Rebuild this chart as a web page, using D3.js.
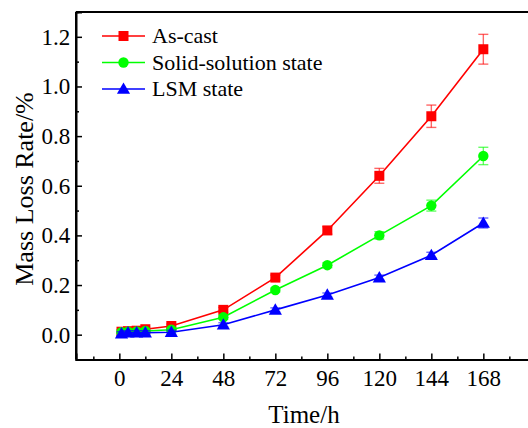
<!DOCTYPE html>
<html><head><meta charset="utf-8">
<script src="https://cdn.jsdelivr.net/npm/d3@7"></script>
<style>body{margin:0;background:#fff}svg{display:block}</style>
</head><body>
<svg id="c" width="528" height="428"></svg>
<script>
const times = [1, 4, 8, 12, 24, 48, 72, 96, 120, 144, 168];
const asCast = [0.012, 0.014, 0.016, 0.022, 0.035, 0.10, 0.23, 0.42, 0.64, 0.88, 1.15];
const asCastErr = [0.008, 0.008, 0.008, 0.008, 0.008, 0.01, 0.01, 0.015, 0.03, 0.045, 0.06];
const solid = [0.010, 0.012, 0.013, 0.015, 0.020, 0.07, 0.18, 0.28, 0.40, 0.52, 0.72];
const solidErr = [0.008, 0.008, 0.008, 0.008, 0.008, 0.008, 0.008, 0.01, 0.015, 0.022, 0.035];
const lsm = [0.004, 0.008, 0.008, 0.008, 0.010, 0.04, 0.10, 0.16, 0.23, 0.32, 0.45];
const lsmErr = [0.008, 0.008, 0.008, 0.008, 0.008, 0.008, 0.008, 0.008, 0.01, 0.012, 0.02];
const seriesNames = ["As-cast", "Solid-solution state", "LSM state"];
const xTicks = [0, 24, 48, 72, 96, 120, 144, 168];
const yTicks = [0.0, 0.2, 0.4, 0.6, 0.8, 1.0, 1.2];

const series = [
  {name: seriesNames[0], vals: asCast, err: asCastErr, color: "#ff0000", shape: "square"},
  {name: seriesNames[1], vals: solid, err: solidErr, color: "#00ff00", shape: "circle"},
  {name: seriesNames[2], vals: lsm, err: lsmErr, color: "#0000ff", shape: "triangle"}
];

const svg = d3.select("#c");
const L = 76, T = 12, B = 359.5;
const x = d3.scaleLinear().domain([-20, 190]).range([L, L + 210 * 52 / 24]);
const y = d3.scaleLinear().domain([-0.1, 1.3]).range([B, T]);
const font = "Liberation Serif";

const symType = {square: d3.symbolSquare, circle: d3.symbolCircle, triangle: d3.symbolTriangle};
const symSize = {square: 100, circle: 85, triangle: 75};

series.forEach(s => {
  const g = svg.append("g");
  const line = d3.line().x((d, i) => x(times[i])).y(d => y(d));
  g.append("path").datum(s.vals).attr("d", line).attr("fill", "none")
    .attr("stroke", s.color).attr("stroke-width", 1.6);
  s.vals.forEach((v, i) => {
    const cx = x(times[i]);
    const y1 = y(v + s.err[i]), y2 = y(v - s.err[i]);
    const eg = g.append("g").attr("stroke", s.color).attr("stroke-opacity", 0.6).attr("stroke-width", 1.4);
    eg.append("line").attr("x1", cx).attr("x2", cx).attr("y1", y1).attr("y2", y2);
    eg.append("line").attr("x1", cx - 5).attr("x2", cx + 5).attr("y1", y1).attr("y2", y1);
    eg.append("line").attr("x1", cx - 5).attr("x2", cx + 5).attr("y1", y2).attr("y2", y2);
  });
  g.selectAll(".m").data(s.vals).enter().append("path")
    .attr("transform", (d, i) => `translate(${x(times[i])},${y(d) + (s.shape === "triangle" ? 1 : 0)})`)
    .attr("d", d3.symbol().type(symType[s.shape]).size(symSize[s.shape]))
    .attr("fill", s.color);
});

const xAxis = svg.append("g").attr("transform", `translate(0,${B})`)
  .call(d3.axisBottom(x).tickValues(xTicks).tickSize(-6).tickFormat(d3.format("d")));
const yAxis = svg.append("g").attr("transform", `translate(${L},0)`)
  .call(d3.axisLeft(y).tickValues(yTicks).tickSize(-6).tickFormat(d3.format(".1f")));
const xMinor = d3.range(-12, 190, 24);
svg.append("g").attr("transform", `translate(0,${B})`)
  .call(d3.axisBottom(x).tickValues(xMinor).tickSize(-3).tickFormat(""))
  .call(g => g.select(".domain").remove());
const yMinor = d3.range(-0.1, 1.31, 0.2).filter(v => v > -0.05);
svg.append("g").attr("transform", `translate(${L},0)`)
  .call(d3.axisLeft(y).tickValues(yMinor).tickSize(-3).tickFormat(""))
  .call(g => g.select(".domain").remove());

[xAxis, yAxis].forEach(a => {
  a.attr("font-family", font);
  a.select(".domain").attr("stroke", "#000").attr("stroke-width", 2);
  a.selectAll(".tick text").attr("font-family", font).attr("font-size", 23).attr("fill", "#000");
});
svg.selectAll(".tick line").attr("stroke", "#000").attr("stroke-width", 1.5);
xAxis.selectAll(".tick text").attr("dy", "1.0em");
yAxis.selectAll(".tick text").attr("dx", "-0.12em");

svg.append("line").attr("x1", L).attr("x2", 530).attr("y1", y(1.3)).attr("y2", y(1.3))
  .attr("stroke", "#000").attr("stroke-width", 2);
svg.append("line").attr("x1", L).attr("x2", L).attr("y1", T).attr("y2", B)
  .attr("stroke", "#000").attr("stroke-width", 2);

svg.append("text").attr("x", 304).attr("y", 423).attr("text-anchor", "middle")
  .attr("font-family", font).attr("font-size", 25).text("Time/h");
svg.append("text").attr("transform", `translate(33,189) rotate(-90)`).attr("text-anchor", "middle")
  .attr("font-family", font).attr("font-size", 26).text("Mass Loss Rate/%");

const lg = svg.append("g");
series.forEach((s, i) => {
  const cy = 36 + i * 26.5;
  lg.append("line").attr("x1", 102).attr("x2", 145).attr("y1", cy).attr("y2", cy)
    .attr("stroke", s.color).attr("stroke-width", 1.6);
  lg.append("path").attr("transform", `translate(123.5,${cy + (s.shape === "triangle" ? 1 : 0)})`)
    .attr("d", d3.symbol().type(symType[s.shape]).size(symSize[s.shape])).attr("fill", s.color);
  lg.append("text").attr("x", 152).attr("y", cy + 7).attr("font-family", font)
    .attr("font-size", 22).text(s.name);
});
</script>
</body></html>
